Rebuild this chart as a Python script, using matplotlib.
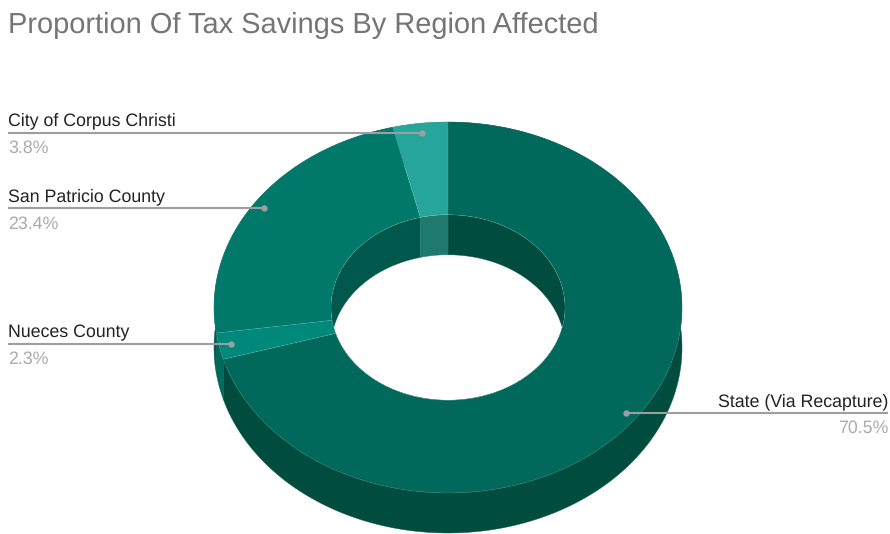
import numpy as np
import matplotlib
matplotlib.use("Agg")
import matplotlib.pyplot as plt
from matplotlib.patches import Ellipse

plt.rcParams["font.family"] = ["Liberation Sans", "DejaVu Sans"]
plt.rcParams["text.hinting"] = "no_hinting"

# Slices in drawing order, clockwise from twelve o'clock
regions = ["State (Via Recapture)", "Nueces County", "San Patricio County", "City of Corpus Christi"]
shares = [70.5, 2.3, 23.4, 3.8]
top_colors = ["#00695C", "#00897B", "#00796B", "#26A69A"]
outer_wall_colors = ["#004D40", "#00695C", "#005B50", "#1F7A6D"]
inner_wall_colors = ["#004D40", "#00685B", "#00574B", "#1F7A6D"]

W, H = 890, 534
CX, CY = 448, 307.5      # donut centre, px
RX, RY = 234, 185.5      # outer radii, px
HOLE = 0.5               # hole radius relative to the outer radius
DEPTH = 40 / RY          # extrusion height in data units
DOT_R = 0.95             # radial position of the leader dots


def px_x(px):
    return (px - CX) / RX


def px_y(py):
    return (CY - py) / RY


fig = plt.figure(figsize=(W / 100, H / 100), dpi=100, facecolor="white")
ax = fig.add_axes([0, 0, 1, 1])

# Slice boundaries, measured clockwise from the top
edges = np.radians(np.concatenate([[0], np.cumsum(shares)]) / sum(shares) * 360)


def wall(a0, a1, radius, color, clip=None, zorder=1):
    """Extruded strip under the rim between two clockwise angles."""
    t = np.linspace(a0, a1, 200)
    x = radius * np.sin(t)
    y = radius * np.cos(t)
    xs = np.concatenate([x, x[::-1]])
    ys = np.concatenate([y, y[::-1] - DEPTH])
    poly = ax.fill(xs, ys, color=color, lw=0.3, zorder=zorder)[0]
    if clip is not None:
        poly.set_clip_path(clip)


wedges, _ = ax.pie(
    shares,
    colors=top_colors,
    startangle=90,
    counterclock=False,
    radius=1,
    wedgeprops=dict(width=1 - HOLE, edgecolor=(1, 1, 1, 0.08), linewidth=0.5),
)
for w in wedges:
    w.set_zorder(3)

# Stretch the circular pie into the tilted ellipse
ax.set_aspect("auto")
ax.set_xlim(px_x(0), px_x(W))
ax.set_ylim(px_y(H), px_y(0))
ax.set_frame_on(False)

hole_clip = Ellipse((0, 0), 2 * HOLE, 2 * HOLE, transform=ax.transData, fill=False, lw=0)
ax.add_patch(hole_clip)

for i in range(len(shares)):
    wall(edges[i], edges[i + 1], 1.0, outer_wall_colors[i])
    wall(edges[i], edges[i + 1], HOLE, inner_wall_colors[i], clip=hole_clip, zorder=2)

# Leader lines with their category and percentage labels
LINE_GRAY = "#9E9E9E"
for i, (name, share) in enumerate(zip(regions, shares)):
    mid = (edges[i] + edges[i + 1]) / 2
    dx = DOT_R * np.sin(mid)
    dy = DOT_R * np.cos(mid)
    right = dx > 0
    end_px = 888 if right else 8
    ax.plot([dx, px_x(end_px)], [dy, dy], color=LINE_GRAY, lw=1.5,
            solid_capstyle="butt", zorder=5)
    ax.plot([dx], [dy], "o", color=LINE_GRAY, ms=4.6, mew=0, zorder=6)
    line_py = CY - dy * RY
    ha = "right" if right else "left"
    fig.text(end_px / W, 1 - (line_py - 7) / H, name, ha=ha, va="baseline",
             fontsize=12.8, color="#222222")
    fig.text(end_px / W, 1 - (line_py + 20) / H, f"{share}%", ha=ha, va="baseline",
             fontsize=12.8, color="#ABABAB")

fig.text(8 / W, 1 - 32.5 / H, "Proportion Of Tax Savings By Region Affected",
         ha="left", va="baseline", fontsize=20.9, color="#757575")

fig.savefig("out.png", dpi=100, facecolor="white")
